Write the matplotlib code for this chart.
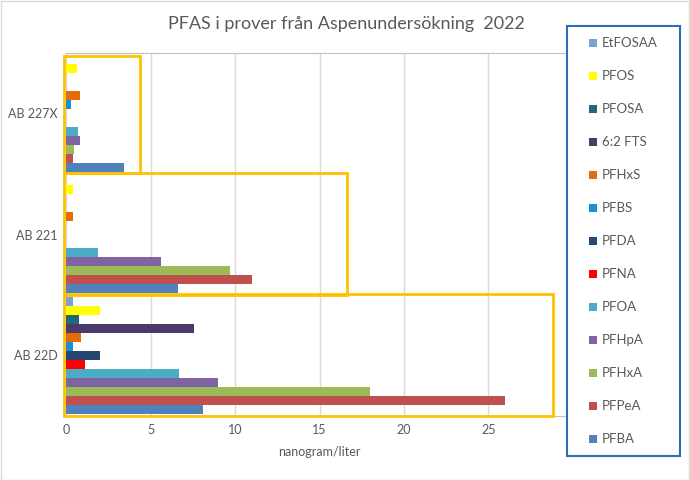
import matplotlib
matplotlib.use("Agg")
import matplotlib.pyplot as plt
from matplotlib.patches import Rectangle
import numpy as np

plt.rcParams['font.family'] = ['Lato', 'DejaVu Sans']

categories = ["AB 22D", "AB 221", "AB 227X"]
# series in plotting order (first = bottom bar within group)
series = ["PFBA", "PFPeA", "PFHxA", "PFHpA", "PFOA", "PFNA", "PFDA",
          "PFBS", "PFHxS", "6:2 FTS", "PFOSA", "PFOS", "EtFOSAA"]
colors = ["#4F81BD", "#C0504D", "#9BBB59", "#8064A2", "#4BACC6", "#FF0000",
          "#254873", "#1C8ED8", "#E36C09", "#4A3A6A", "#22687A", "#FFFF00",
          "#7AA2D4"]
# values per series: [AB 22D, AB 221, AB 227X]
PFBA = [8.1, 6.6, 3.45]
PFPeA = [26.0, 11.0, 0.4]
PFHxA = [18.0, 9.7, 0.5]
PFHpA = [9.0, 5.6, 0.8]
PFOA = [6.7, 1.9, 0.7]
PFNA = [1.1, 0.0, 0.0]
PFDA = [2.0, 0.0, 0.0]
PFBS = [0.4, 0.0, 0.3]
PFHxS = [0.9, 0.4, 0.8]
FTS62 = [7.6, 0.0, 0.0]
PFOSA = [0.75, 0.0, 0.0]
PFOS = [2.0, 0.4, 0.65]
EtFOSAA = [0.4, 0.0, 0.0]
values = [PFBA, PFPeA, PFHxA, PFHpA, PFOA, PFNA, PFDA, PFBS, PFHxS,
          FTS62, PFOSA, PFOS, EtFOSAA]
xticks = [0, 5, 10, 15, 20, 25, 30]

W, H = 690, 480
fig = plt.figure(figsize=(W / 100, H / 100), dpi=100)
fig.patch.set_facecolor("white")
# outer chart border
fig.add_artist(Rectangle((0.5 / W, 0.5 / H), 1 - 1.5 / W, 1 - 1.5 / H,
                         transform=fig.transFigure, fill=False,
                         edgecolor="#D9D9D9", linewidth=1))

ax = fig.add_axes([66 / W, 1 - 416 / H, (573 - 66) / W, (416 - 53) / H])
n = len(series)
group = 0.97
bh = group / n
y = np.arange(len(categories))
for i, (name, vals, c) in enumerate(zip(series, values, colors)):
    ax.barh(y - group / 2 + bh * (i + 0.5), vals, height=bh, color=c,
            label=name, zorder=3)

ax.set_xlim(0, 30)
ax.set_ylim(-0.5, 2.5)
ax.set_xticks(xticks)
ax.set_xticklabels([str(t) for t in xticks])
ax.set_yticks(y)
ax.set_yticklabels(categories)
ax.tick_params(length=0, labelsize=9, colors="#595959", pad=6)
ax.xaxis.grid(True, color="#D9D9D9", linewidth=1, zorder=0)
ax.set_axisbelow(True)
for s in ["left", "right"]:
    ax.spines[s].set_visible(False)
for s in ["top", "bottom"]:
    ax.spines[s].set_color("#BFBFBF")
ax.set_xlabel("nanogram/liter", fontsize=9, color="#595959", labelpad=7)

# highlight boxes around each group
box_right = [28.8, 16.6, 4.4]
box_span = [(-0.5, 0.51), (0.503, 1.506), (1.506, 2.475)]
for r, (b0, b1) in zip(box_right, box_span):
    ax.add_patch(Rectangle((-0.12, b0), r + 0.12, b1 - b0, fill=False,
                           edgecolor="#FFC000", linewidth=2.0, zorder=5,
                           clip_on=False))

fig.text(346 / W, 1 - 24 / H, "PFAS i prover från Aspenundersökning  2022",
         ha="center", va="center", fontsize=13, color="#595959")

# legend (manual, Excel style)
fig.add_artist(Rectangle((567 / W, 1 - 455.5 / H), (680 - 567) / W,
                         (455.5 - 26) / H, transform=fig.transFigure,
                         facecolor="white", edgecolor="#2E6DB4",
                         linewidth=1.5, zorder=10))
for k, idx in enumerate(range(n - 1, -1, -1)):
    yc = 43.3 + k * 33.0
    fig.add_artist(Rectangle((588.5 / W, 1 - (yc + 4) / H), 8 / W, 8 / H,
                             transform=fig.transFigure, facecolor=colors[idx],
                             edgecolor="none", zorder=11))
    t = fig.text(601.5 / W, 1 - yc / H, series[idx], ha="left", va="center",
                 fontsize=9.5, color="#595959")
    t.set_zorder(12)

fig.savefig("out.png", dpi=100)
